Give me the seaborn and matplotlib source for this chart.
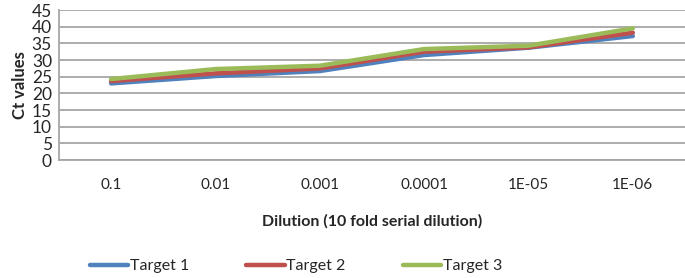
import matplotlib
matplotlib.use("Agg")
import matplotlib.pyplot as plt
import seaborn as sns
import pandas as pd

sns.set_style("white")
plt.rcParams["font.family"] = ["Lato", "DejaVu Sans"]

dilutions = ["0.1", "0.01", "0.001", "0.0001", "1E-05", "1E-06"]
target1 = [23.0, 25.2, 26.7, 31.5, 33.7, 37.2]
target2 = [23.7, 26.0, 27.5, 32.5, 33.8, 38.2]
target3 = [24.3, 27.3, 28.3, 33.3, 34.3, 39.5]
seriesNames = ["Target 1", "Target 2", "Target 3"]
colors = ["#4F81BD", "#C0504D", "#9BBB59"]

rows = []
for name, vals in zip(seriesNames, [target1, target2, target3]):
    for d, v in zip(dilutions, vals):
        rows.append({"Dilution": d, "Ct": v, "Target": name})
df = pd.DataFrame(rows)

fig = plt.figure(figsize=(6.85, 2.78), dpi=100)
ax = fig.add_axes([0.086, 0.424, 0.914, 0.54])

sns.lineplot(data=df, x="Dilution", y="Ct", hue="Target", palette=colors,
             linewidth=3.2, sort=False, ax=ax, legend=False)

ax.set_ylim(0, 45)
ax.set_yticks(range(0, 50, 5))
ax.set_xlim(-0.5, 5.5)
ax.grid(axis="y", color="#a6a6a6", linewidth=1.3)
ax.set_axisbelow(True)
for side in ["top", "right"]:
    ax.spines[side].set_visible(False)
for side in ["left", "bottom"]:
    ax.spines[side].set_color("#a6a6a6")
    ax.spines[side].set_linewidth(1.3)
ax.tick_params(axis="y", labelsize=12.5, length=0, pad=5)
ax.tick_params(axis="x", labelsize=11, length=0, pad=13)

ax.set_xlabel("Dilution (10 fold serial dilution)", fontsize=11.5, weight="bold", labelpad=16)
ax.set_ylabel("Ct values", fontsize=12, weight="bold", labelpad=3)

handles = [plt.Line2D([0], [0], color=c, linewidth=3.2) for c in colors]
fig.legend(handles, seriesNames, loc="lower center", bbox_to_anchor=(0.432, -0.035), ncol=3,
           frameon=False, fontsize=11.5, handlelength=2.4, handletextpad=0.1,
           columnspacing=3.6)

fig.savefig("out.png", dpi=100)
